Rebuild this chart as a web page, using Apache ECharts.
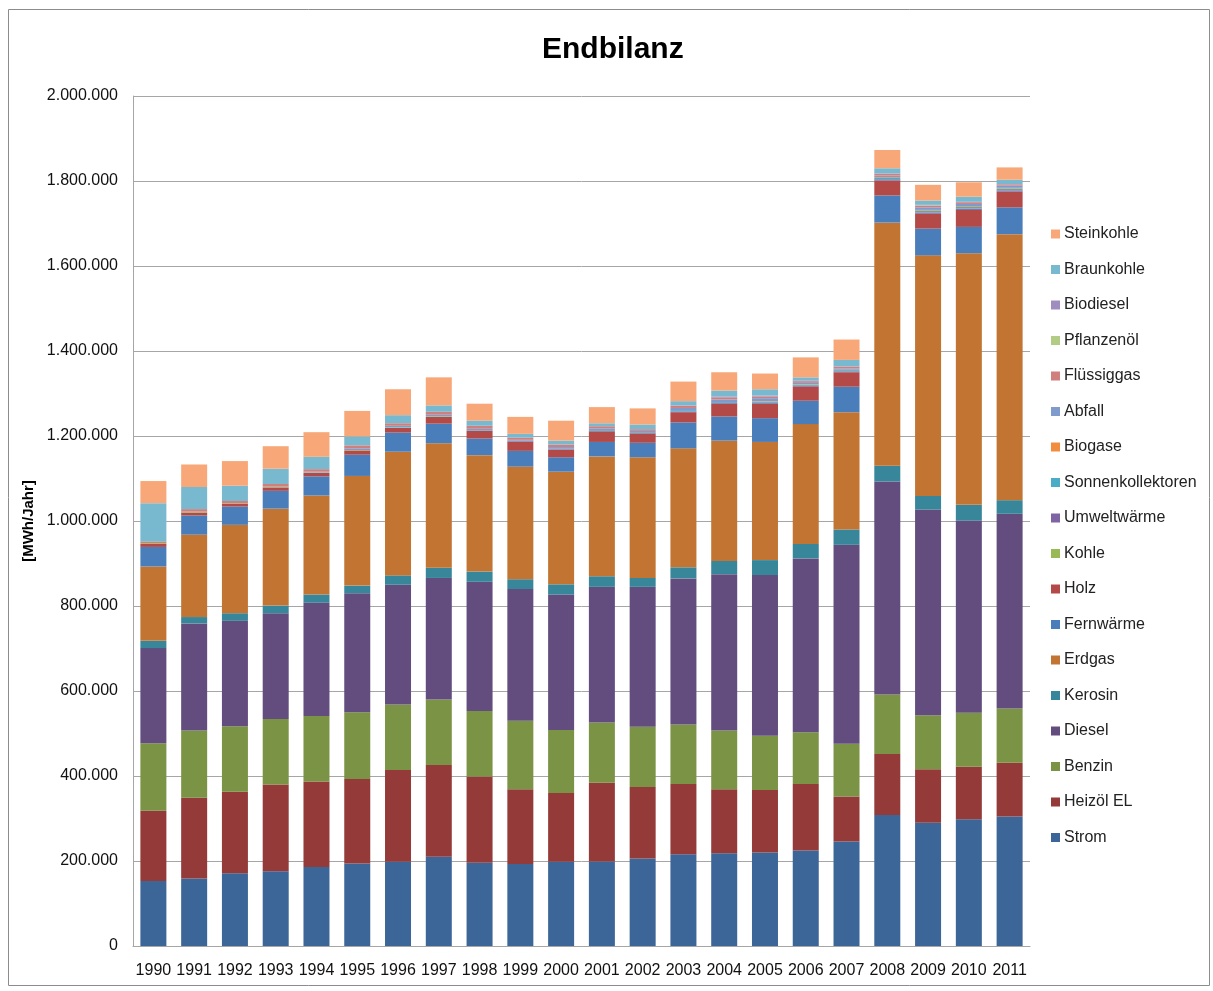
<!DOCTYPE html>
<html>
<head>
<meta charset="utf-8">
<script src="https://cdn.jsdelivr.net/npm/echarts@6/dist/echarts.min.js"></script>
<style>
  html, body {margin: 0; padding: 0; background: #fff;}
  #main {width: 1213px; height: 991px;}
</style>
</head>
<body>
<div id="main"></div>
<script>
// Jahre
const years = ['1990','1991','1992','1993','1994','1995','1996','1997','1998','1999','2000',
  '2001','2002','2003','2004','2005','2006','2007','2008','2009','2010','2011'];

// Werte in Tausend MWh/Jahr, von unten nach oben gestapelt
const strom      = [153,159,171,176,186,194,198,210,196,193,198,199,206,216,218,220,225,246,308,290,298,305];
const heizoel    = [165,190,192,204,201,199,216,216,203,176,162,185,168,165,151,147,156,106,144,126,124,126];
const benzin     = [159,158,154,154,154,157,154,154,154,161,148,142,142,140,138,128,122,124,140,127,127,128];
const diesel     = [224,252,248,249,267,280,282,286,304,310,319,319,329,344,368,378,409,468,501,484,452,458];
const kerosin    = [17,15,18,18,19,18,22,24,24,23,24,25,21,26,31,35,34,36,37,32,37,32];
const erdgas     = [175,194,208,228,233,258,291,293,274,265,265,282,284,280,283,278,282,276,572,566,592,626];
const fernwaerme = [46,45,43,42,45,50,45,46,39,37,34,34,34,61,57,56,55,60,64,63,62,63];
const holz       = [7,7,7,8,8,10,11,16,18,22,18,25,22,24,30,34,33,34,35,35,40,37];
const kohle      = [2,2,1,1,1,1,1,1,0,0,0,0,0,0,0,0,0,0,0,0,0,0];
const umwelt     = [0,0,0,0,0,0,0,0,1,1,1,1,1,1,2,2,2,2,3,3,3,3];
const sonnen     = [0,0,0,0,0,0,1,1,1,1,1,2,2,2,2,3,3,3,3,4,4,4];
const biogase    = [0,0,0,0,0,0,0,0,0,0,0,0,0,0,0,1,1,1,2,2,2,2];
const abfall     = [0,0,0,1,2,4,3,3,3,2,4,4,3,7,6,7,3,3,4,6,5,5];
const fluessig   = [4,6,5,6,6,7,6,7,7,5,6,5,4,5,5,4,4,4,4,4,4,3];
const pflanzen   = [0,0,0,0,0,0,0,0,0,0,0,0,0,0,0,0,0,0,0,1,0,0];
const biodiesel  = [0,0,0,0,0,0,0,0,0,0,0,0,0,1,2,2,1,1,1,1,1,1];
const braunkohle = [90,52,36,36,29,21,19,15,12,9,9,7,11,10,14,15,8,15,12,10,12,10];
const steinkohle = [52,53,58,53,58,60,61,66,40,40,47,38,38,46,43,37,47,48,43,37,34,29];

const yTicks = {min: 0, max: 2000000, interval: 200000};

const seriesList = [
  ['Strom', strom, '#3C6598'],
  ['Heizöl EL', heizoel, '#943B3A'],
  ['Benzin', benzin, '#7A9344'],
  ['Diesel', diesel, '#624D7E'],
  ['Kerosin', kerosin, '#37869A'],
  ['Erdgas', erdgas, '#C27533'],
  ['Fernwärme', fernwaerme, '#4A7EBB'],
  ['Holz', holz, '#B44A48'],
  ['Kohle', kohle, '#98B954'],
  ['Umweltwärme', umwelt, '#7F64A3'],
  ['Sonnenkollektoren', sonnen, '#4BACC6'],
  ['Biogase', biogase, '#F08D3E'],
  ['Abfall', abfall, '#7E9BCB'],
  ['Flüssiggas', fluessig, '#CF7F7D'],
  ['Pflanzenöl', pflanzen, '#B2CC86'],
  ['Biodiesel', biodiesel, '#A08DC0'],
  ['Braunkohle', braunkohle, '#79B9D0'],
  ['Steinkohle', steinkohle, '#F8A878'],
];

function fmt(v) {
  return String(v).replace(/\B(?=(\d{3})+(?!\d))/g, '.');
}

const chart = echarts.init(document.getElementById('main'));
chart.setOption({
  animation: false,
  textStyle: {fontFamily: 'Liberation Sans, Arial, sans-serif'},
  title: {
    text: 'Endbilanz',
    left: 537,
    top: 30,
    textStyle: {fontSize: 30, fontWeight: 'bold', color: '#000', fontFamily: 'Liberation Sans, Arial, sans-serif'}
  },
  graphic: [{
    type: 'rect',
    shape: {x: 8.5, y: 9.5, width: 1201, height: 976},
    style: {fill: 'none', stroke: '#8c8c8c', lineWidth: 1},
    silent: true
  }],
  grid: {left: 133, top: 96, width: 897, height: 850, containLabel: false},
  legend: {
    orient: 'vertical',
    left: 1046,
    top: 219,
    itemWidth: 9,
    itemHeight: 9,
    itemGap: 15.5,
    icon: 'rect',
    data: seriesList.map(s => s[0]).reverse(),
    textStyle: {fontSize: 16, color: '#222', lineHeight: 20, padding: [0, 0, 0, -1]}
  },
  xAxis: {
    type: 'category',
    data: years,
    axisTick: {show: false},
    axisLine: {lineStyle: {color: '#a6a6a6'}},
    axisLabel: {fontSize: 16, color: '#111', margin: 17, interval: 0}
  },
  yAxis: {
    type: 'value',
    min: yTicks.min,
    max: yTicks.max,
    interval: yTicks.interval,
    name: '[MWh/Jahr]',
    nameLocation: 'middle',
    nameGap: 83,
    nameTextStyle: {fontSize: 15, fontWeight: 'bold', color: '#000'},
    axisLine: {show: true, lineStyle: {color: '#a6a6a6'}},
    axisTick: {show: false},
    splitLine: {lineStyle: {color: '#a6a6a6'}},
    axisLabel: {fontSize: 16, color: '#111', margin: 15, formatter: v => fmt(v)}
  },
  series: seriesList.map(([name, vals, color]) => ({
    name: name,
    type: 'bar',
    stack: 'total',
    barWidth: 26,
    data: vals.map(v => v * 1000),
    itemStyle: {color: color}
  }))
});
</script>
</body>
</html>
